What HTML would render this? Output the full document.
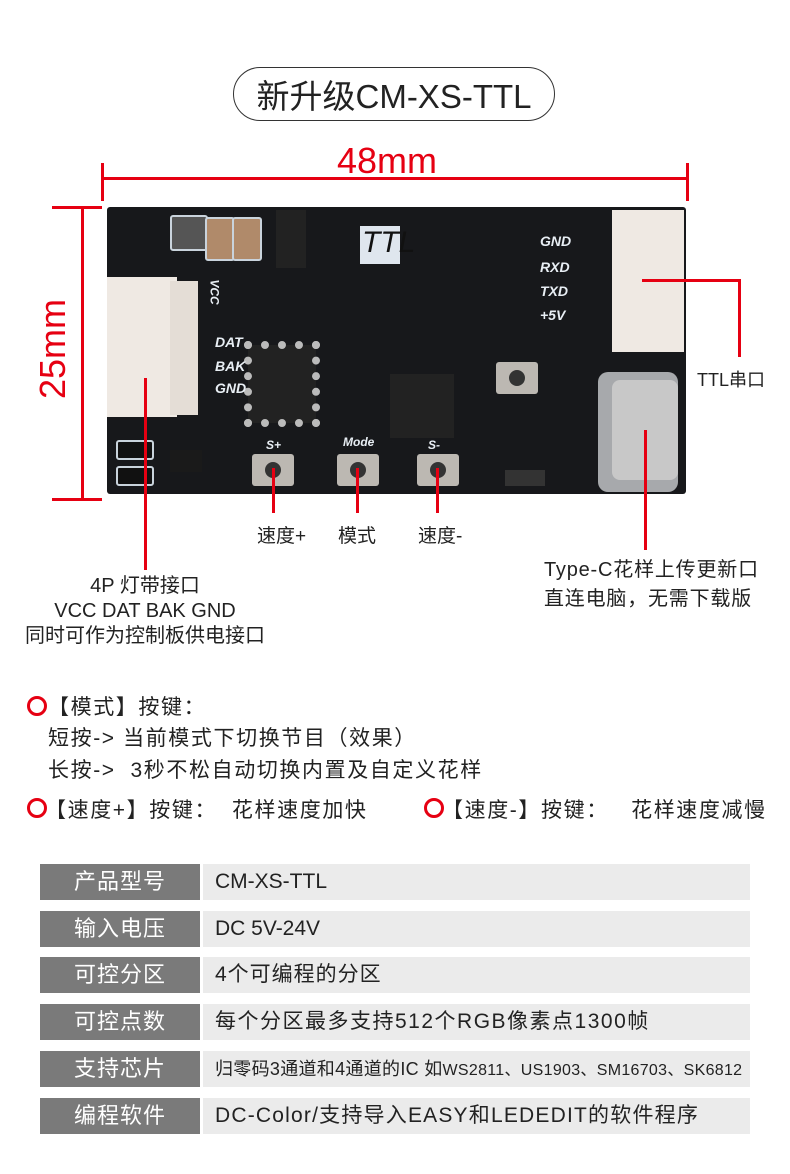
<!DOCTYPE html>
<html><head><meta charset="utf-8"><style>
body{margin:0;width:790px;height:1174px;background:#fff;position:relative;overflow:hidden;font-family:"Liberation Sans","Noto Sans CJK SC",sans-serif;color:#222}
.a{position:absolute}
.r{position:absolute;background:#e60012}
.t{position:absolute;white-space:nowrap}
.ring{position:absolute;width:14px;height:14px;border:3px solid #e60012;border-radius:50%}
.lab{position:absolute;left:40px;width:160px;height:36px;background:#7a7a7a;color:#fff;font-size:22px;line-height:36px;text-align:center;letter-spacing:1px}
.val{position:absolute;left:203px;width:547px;height:36px;background:#ebebeb;font-size:21px;line-height:36px;padding-left:12px;box-sizing:border-box}
.comp{position:absolute;background:#111;border:2px solid #c9d3dc;border-radius:3px}
.chip{position:absolute;background:#1a1a1a}
.btn{position:absolute;width:42px;height:32px;background:#bcb8b2;border-radius:3px}
.btn:after{content:"";position:absolute;left:13px;top:8px;width:16px;height:16px;border-radius:50%;background:#333}
.sl{position:absolute;color:#e8eef4;font-style:italic;font-weight:bold;font-size:14px}
.k{font-size:21px;letter-spacing:1.6px}
</style></head><body>
<div class="a" style="left:233px;top:67px;width:322px;height:54px;border:1.5px solid #333;border-radius:28px;box-sizing:border-box"></div>
<div class="t" style="left:233px;top:70px;width:322px;text-align:center;font-size:33px">新升级CM-XS-TTL</div>

<div class="t" style="left:337px;top:140px;font-size:36px;color:#e60012">48mm</div>
<div class="r" style="left:102px;top:177px;width:587px;height:3px"></div>
<div class="r" style="left:101px;top:163px;width:3px;height:38px"></div>
<div class="r" style="left:686px;top:163px;width:3px;height:38px"></div>
<div class="r" style="left:81px;top:207px;width:3px;height:294px"></div>
<div class="r" style="left:52px;top:206px;width:50px;height:3px"></div>
<div class="r" style="left:52px;top:498px;width:50px;height:3px"></div>
<div class="t" style="left:8px;top:333px;font-size:36px;color:#e60012;transform:rotate(-90deg);transform-origin:center;width:90px;text-align:center">25mm</div>

<!-- PCB -->
<div class="a" style="left:107px;top:207px;width:579px;height:287px;background:#17181b;border-radius:3px"></div>
<div class="a" style="left:107px;top:277px;width:70px;height:140px;background:#efe9e3"></div>
<div class="a" style="left:170px;top:281px;width:28px;height:134px;background:#e4ddd6"></div>
<div class="a" style="left:612px;top:210px;width:72px;height:142px;background:#efe9e3"></div>
<div class="a" style="left:598px;top:372px;width:80px;height:120px;background:#a7a9ac;border-radius:10px"></div>
<div class="a" style="left:612px;top:380px;width:66px;height:100px;background:#c8c8c8;border-radius:8px"></div>
<div class="chip" style="left:248px;top:345px;width:68px;height:78px;background:#222;outline:8px dotted #bbb;outline-offset:-4px"></div>
<div class="chip" style="left:390px;top:374px;width:64px;height:64px;background:#222"></div>
<div class="comp" style="left:170px;top:215px;width:34px;height:32px;background:#555"></div>
<div class="comp" style="left:205px;top:217px;width:26px;height:40px;background:#b08a6a"></div>
<div class="comp" style="left:232px;top:217px;width:26px;height:40px;background:#b08a6a"></div>
<div class="chip" style="left:276px;top:210px;width:30px;height:58px;background:#222"></div>
<div class="a" style="left:360px;top:226px;width:40px;height:38px;background:#dfe6ee"></div>
<div class="t" style="left:362px;top:226px;font-size:30px;font-style:italic;color:#111">TTL</div>
<div class="sl" style="left:540px;top:233px">GND</div>
<div class="sl" style="left:540px;top:259px">RXD</div>
<div class="sl" style="left:540px;top:283px">TXD</div>
<div class="sl" style="left:540px;top:307px">+5V</div>
<div class="sl" style="left:202px;top:285px;transform:rotate(90deg);font-size:12px">VCC</div>
<div class="sl" style="left:215px;top:334px">DAT</div>
<div class="sl" style="left:215px;top:358px">BAK</div>
<div class="sl" style="left:215px;top:380px">GND</div>
<div class="sl" style="left:266px;top:438px;font-size:12px">S+</div>
<div class="sl" style="left:343px;top:435px;font-size:12px">Mode</div>
<div class="sl" style="left:428px;top:438px;font-size:12px">S-</div>
<div class="btn" style="left:252px;top:454px"></div>
<div class="btn" style="left:337px;top:454px"></div>
<div class="btn" style="left:417px;top:454px"></div>
<div class="btn" style="left:496px;top:362px"></div>
<div class="comp" style="left:116px;top:440px;width:34px;height:16px"></div>
<div class="comp" style="left:116px;top:466px;width:34px;height:16px"></div>
<div class="chip" style="left:170px;top:450px;width:32px;height:22px"></div>
<div class="chip" style="left:505px;top:470px;width:40px;height:16px;background:#333"></div>

<!-- pointer lines -->
<div class="r" style="left:144px;top:378px;width:3px;height:192px"></div>
<div class="r" style="left:272px;top:468px;width:3px;height:45px"></div>
<div class="r" style="left:356px;top:468px;width:3px;height:45px"></div>
<div class="r" style="left:436px;top:468px;width:3px;height:45px"></div>
<div class="r" style="left:644px;top:430px;width:3px;height:120px"></div>
<div class="r" style="left:642px;top:279px;width:99px;height:3px"></div>
<div class="r" style="left:738px;top:279px;width:3px;height:78px"></div>

<div class="t" style="left:697px;top:366px;font-size:18px">TTL串口</div>
<div class="t" style="left:257px;top:521px;font-size:19px">速度+</div>
<div class="t" style="left:338px;top:521px;font-size:19px">模式</div>
<div class="t" style="left:418px;top:521px;font-size:19px">速度-</div>
<div class="t" style="left:0;width:290px;top:574px;font-size:20px;text-align:center;line-height:25px">4P 灯带接口<br>VCC DAT BAK GND<br>同时可作为控制板供电接口</div>
<div class="t" style="left:544px;top:556px;font-size:20px;line-height:29px;letter-spacing:0.8px">Type-C花样上传更新口<br>直连电脑，无需下载版</div>

<div class="ring" style="left:27px;top:696px"></div>
<div class="t k" style="left:48px;top:691px">【模式】按键：</div>
<div class="t k" style="left:48px;top:722px">短按-&gt; 当前模式下切换节目（效果）</div>
<div class="t k" style="left:48px;top:754px">长按-&gt;&nbsp; 3秒不松自动切换内置及自定义花样</div>
<div class="ring" style="left:27px;top:798px"></div>
<div class="t k" style="left:45px;top:794px">【速度+】按键：&nbsp; 花样速度加快</div>
<div class="ring" style="left:424px;top:798px"></div>
<div class="t k" style="left:442px;top:794px">【速度-】按键：&nbsp;&nbsp; 花样速度减慢</div>

<div class="lab" style="top:864px">产品型号</div><div class="val" style="top:864px">CM-XS-TTL</div>
<div class="lab" style="top:911px">输入电压</div><div class="val" style="top:911px">DC 5V-24V</div>
<div class="lab" style="top:957px">可控分区</div><div class="val" style="top:957px;letter-spacing:1px">4个可编程的分区</div>
<div class="lab" style="top:1004px">可控点数</div><div class="val" style="top:1004px;letter-spacing:1.5px">每个分区最多支持512个RGB像素点1300帧</div>
<div class="lab" style="top:1051px">支持芯片</div><div class="val" style="top:1051px;font-size:18px;letter-spacing:0.3px">归零码3通道和4通道的IC 如<span style="font-size:16px">WS2811、US1903、SM16703、SK6812</span></div>
<div class="lab" style="top:1098px">编程软件</div><div class="val" style="top:1098px;letter-spacing:1.2px">DC-Color/支持导入EASY和LEDEDIT的软件程序</div>
</body></html>
